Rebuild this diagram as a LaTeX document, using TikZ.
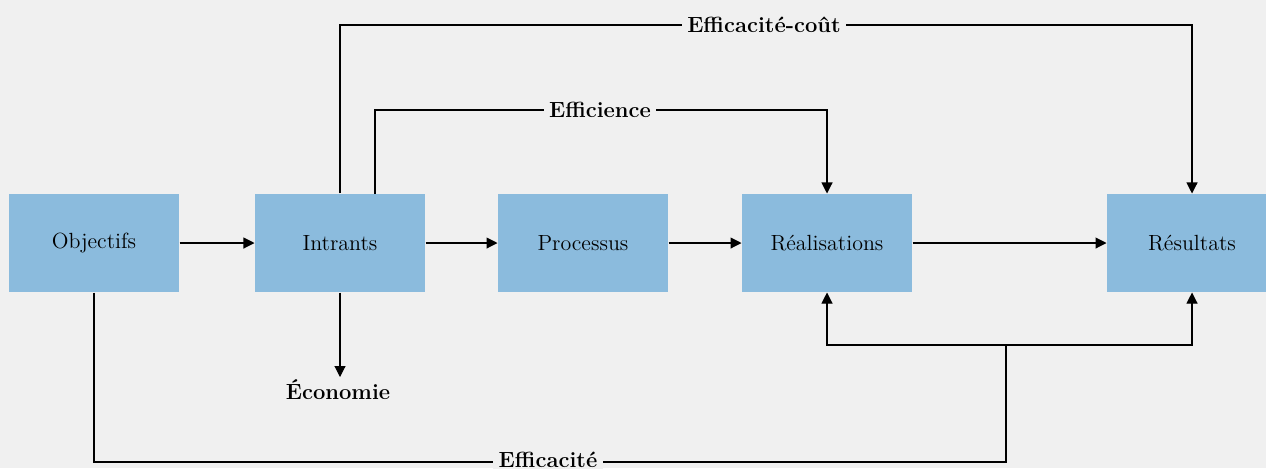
\documentclass[tikz,border=0pt]{standalone}
\usepackage{tikz}
\usetikzlibrary{arrows.meta,positioning}

\definecolor{boxblue}{HTML}{8BBBDD}
\definecolor{bggray}{HTML}{F0F0F0}

\begin{document}
\begin{tikzpicture}[x=0.02cm,y=-0.02cm,
    >={Triangle[width=0.22cm,length=0.22cm]},
    line width=0.6pt,
    box/.style={fill=boxblue, minimum width=3.4cm, minimum height=1.96cm,
      inner sep=0pt, font=\fontsize{12.5}{15}\selectfont},
    lbl/.style={fill=bggray, inner sep=3pt, font=\fontsize{12.5}{15}\selectfont\bfseries}]

    % background and frame
    \fill[bggray] (0,0) rectangle (1266,468);
    \useasboundingbox (0,0) rectangle (1266,468);

    % main chain
    \node[box] (obj)  at (94,243)   {Objectifs};
    \node[box] (int)  at (340,243)  {Intrants};
    \node[box] (proc) at (583,243)  {Processus};
    \node[box] (real) at (827,243)  {Réalisations};
    \node[box] (res)  at (1192,243) {Résultats};

    \path[->] (obj)  edge (int)
              (int)  edge (proc)
              (proc) edge (real)
              (real) edge (res);

    % helper points
    \coordinate (top)    at (764,25);
    \coordinate (mid)    at (600,110);
    \coordinate (bot)    at (548,462);
    \coordinate (split)  at (1006,345);
    \coordinate (effin)  at (375,194);

    % Efficacite-cout
    \draw[->] (int.north) -- (int.north |- top) -- (res.north |- top) -- (res.north);
    % Efficience
    \draw[->] (effin) -- (effin |- mid) -- (real.north |- mid) -- (real.north);
    % Economie
    \node[lbl, fill=none, inner sep=1pt, anchor=north] (eco) at (338,377) {Économie};
    \draw[->] (int.south) -- (int.south |- eco.north);
    % Efficacite
    \draw (obj.south) -- (obj.south |- bot) -- (split |- bot) -- (split);
    \draw[<->] (real.south) -- (real.south |- split) -- (res.south |- split) -- (res.south);

    \node[lbl] (ecout) at (top) {Efficacité-coût};
    \node[lbl] (effi)  at (mid) {Efficience};
    \node[lbl] (effa)  at ([yshift=1pt]bot) {Efficacité};
\end{tikzpicture}
\end{document}
